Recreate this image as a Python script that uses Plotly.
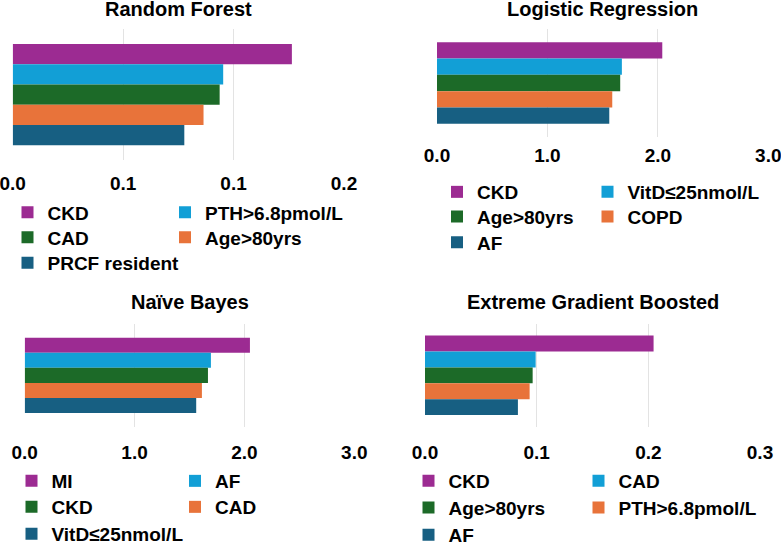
import plotly.graph_objects as go

# ---------------- data ----------------
titles = ["Random Forest", "Logistic Regression", "Naïve Bayes", "Extreme Gradient Boosted"]

rf_features = ["CKD", "PTH>6.8pmol/L", "CAD", "Age>80yrs", "PRCF resident"]
rf_values = [0.1264, 0.0953, 0.0937, 0.0864, 0.0777]

lr_features = ["CKD", "VitD≤25nmol/L", "Age>80yrs", "COPD", "AF"]
lr_values = [2.04, 1.674, 1.659, 1.587, 1.56]

nb_features = ["MI", "AF", "CKD", "CAD", "VitD≤25nmol/L"]
nb_values = [2.05, 1.695, 1.668, 1.613, 1.561]

xgb_features = ["CKD", "CAD", "Age>80yrs", "PTH>6.8pmol/L", "AF"]
xgb_values = [0.2047, 0.0991, 0.0964, 0.0937, 0.0832]

rf_tickvals = [0, 0.05, 0.10, 0.15]
rf_ticktext = ["0.0", "0.1", "0.1", "0.2"]
lr_tickvals = [0, 1, 2, 3]
lr_ticktext = ["0.0", "1.0", "2.0", "3.0"]
nb_tickvals = [0, 1, 2, 3]
nb_ticktext = ["0.0", "1.0", "2.0", "3.0"]
xgb_tickvals = [0, 0.1, 0.2, 0.3]
xgb_ticktext = ["0.0", "0.1", "0.2", "0.3"]

colors = ["#9c2b92", "#129fd6", "#1c6a28", "#e8733a", "#175f82"]

# ---------------- layout config ----------------
W, H = 781, 544
FONT = "Liberation Sans, Arial, Helvetica, sans-serif"

panels = [
    dict(features=rf_features, values=rf_values, tv=rf_tickvals, tt=rf_ticktext,
         xpx=(12.7, 344.0), ypx=(29.3, 160.0), yhalf=0.5026, standoff=10,
         title_y=9, cols=(33.0, 190.5), rows=(212.5, 237.5, 263.0)),
    dict(features=lr_features, values=lr_values, tv=lr_tickvals, tt=lr_ticktext,
         xpx=(437.0, 768.3), ypx=(29.3, 136.7), yhalf=0.5145, standoff=5,
         title_y=9, cols=(462.5, 613.0), rows=(192.0, 216.7, 242.5)),
    dict(features=nb_features, values=nb_values, tv=nb_tickvals, tt=nb_ticktext,
         xpx=(24.7, 354.3), ypx=(323.7, 427.0), yhalf=0.535, standoff=12,
         title_y=302, cols=(37.0, 200.5), rows=(481.0, 507.0, 534.0)),
    dict(features=xgb_features, values=xgb_values, tv=xgb_tickvals, tt=xgb_ticktext,
         xpx=(425.0, 760.0), ypx=(323.7, 427.0), yhalf=0.507, standoff=12,
         title_y=302, cols=(434.0, 604.0), rows=(481.0, 507.7, 535.0)),
]

fig = go.Figure()
layout = dict(
    width=W, height=H,
    margin=dict(l=0, r=0, t=0, b=0, pad=0, autoexpand=False),
    paper_bgcolor="white", plot_bgcolor="white",
    barmode="group", bargap=0.22,
    font=dict(family=FONT, color="black"),
    annotations=[],
)

legend_idx = 0
for p_i, p in enumerate(panels):
    n = p_i + 1
    xa = "x" if n == 1 else f"x{n}"
    ya = "y" if n == 1 else f"y{n}"
    xdom = [p["xpx"][0] / W, p["xpx"][1] / W]
    ydom = [1 - p["ypx"][1] / H, 1 - p["ypx"][0] / H]
    rng_max = p["tv"][-1]
    layout["xaxis" if n == 1 else f"xaxis{n}"] = dict(
        domain=xdom, anchor=ya, range=[0, rng_max],
        tickvals=p["tv"], ticktext=p["tt"],
        showgrid=True, gridcolor="#e3e3e3", gridwidth=1,
        zeroline=False, showline=False, ticks="",
        tickfont=dict(family=FONT, size=19, color="black", weight="bold"),
        ticklabelstandoff=p["standoff"], ticklabeloverflow="allow",
        fixedrange=True, automargin=False,
    )
    layout["yaxis" if n == 1 else f"yaxis{n}"] = dict(
        domain=ydom, anchor=xa, range=[p["yhalf"], -p["yhalf"]],
        showticklabels=False, showgrid=False, zeroline=False, ticks="",
        fixedrange=True, automargin=False,
    )
    layout["annotations"].append(dict(
        text=titles[p_i], xref="paper", yref="paper",
        x=(xdom[0] + xdom[1]) / 2, y=1 - p["title_y"] / H,
        xanchor="center", yanchor="middle", showarrow=False,
        font=dict(family=FONT, size=20, color="black", weight="bold"),
    ))
    for k, (feat, val) in enumerate(zip(p["features"], p["values"])):
        legend_idx += 1
        lname = "legend" if legend_idx == 1 else f"legend{legend_idx}"
        col = k % 2
        row = k // 2
        sym_cx = p["cols"][col] - 5.5
        fig.add_trace(go.Bar(
            x=[val], y=[titles[p_i]], orientation="h", name=feat,
            marker=dict(color=colors[k], line=dict(width=0)),
            xaxis=xa, yaxis=ya, legend=lname, showlegend=True,
            hoverinfo="x+name",
        ))
        layout[lname] = dict(
            x=(sym_cx - 20) / W, y=1 - p["rows"][row] / H,
            xanchor="left", yanchor="middle",
            orientation="v", bgcolor="rgba(0,0,0,0)", borderwidth=0,
            font=dict(family=FONT, size=19, color="black", weight="bold"),
            itemclick=False, itemdoubleclick=False,
        )

fig.update_layout(**layout)
fig.write_html(
    "out.html",
    config={"displayModeBar": False},
    post_script="document.body.style.margin='0';document.body.style.overflow='hidden';",
)
